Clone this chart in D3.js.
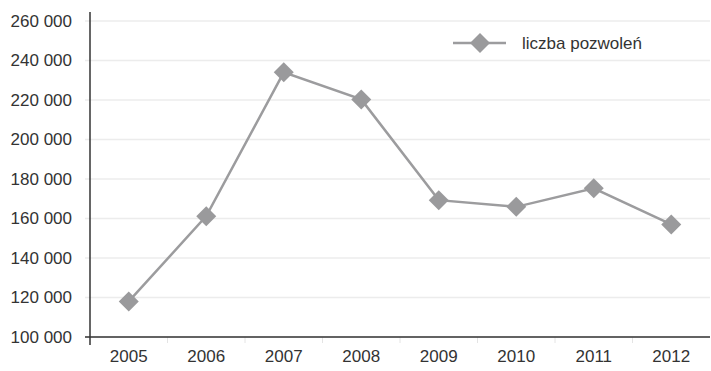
<!DOCTYPE html>
<html>
<head>
<meta charset="utf-8">
<script src="https://cdn.jsdelivr.net/npm/d3@7"></script>
<style>
  html, body { margin: 0; padding: 0; background: #fff; }
  svg text { font-family: "Liberation Sans", Arial, sans-serif; }
</style>
</head>
<body>
<svg id="chart" width="711" height="371"></svg>
<script>
// Building permits issued per year
const years = ["2005", "2006", "2007", "2008", "2009", "2010", "2011", "2012"];
const permits = [118000, 161200, 234000, 220300, 169300, 165900, 175300, 157000];
const yTicks = [100000, 120000, 140000, 160000, 180000, 200000, 220000, 240000, 260000];
const seriesName = "liczba pozwoleń";

const svg = d3.select("#chart");
const plotLeft = 90, plotRight = 710, plotTop = 21, plotBottom = 337;

const x = d3.scaleBand().domain(years).range([plotLeft, plotRight]);
const y = d3.scaleLinear().domain([100000, 260000]).range([plotBottom, plotTop]);

const fmt = v => d3.format(",")(v).replace(/,/g, " ");

// horizontal gridlines
svg.append("g")
  .selectAll("line")
  .data(yTicks)
  .join("line")
  .attr("x1", plotLeft - 5).attr("x2", plotRight)
  .attr("y1", d => y(d)).attr("y2", d => y(d))
  .attr("stroke", "#ececec").attr("stroke-width", 1.5);

// y axis labels
const yAxis = svg.append("g")
  .attr("transform", `translate(${plotLeft},0)`)
  .call(d3.axisLeft(y).tickValues(yTicks).tickFormat(fmt).tickSize(0).tickPadding(18));
yAxis.select(".domain").remove();
yAxis.selectAll("text")
  .attr("font-size", 17).attr("fill", "#333")
  .attr("font-family", "Liberation Sans, Arial, sans-serif");

// x axis labels and faint category ticks
const xAxis = svg.append("g")
  .attr("transform", `translate(0,${plotBottom})`)
  .call(d3.axisBottom(x).tickSize(0).tickPadding(13));
xAxis.select(".domain").remove();
xAxis.selectAll("text")
  .attr("font-size", 17).attr("fill", "#333")
  .attr("font-family", "Liberation Sans, Arial, sans-serif");

svg.append("g")
  .selectAll("line")
  .data(years.slice(1))
  .join("line")
  .attr("x1", d => x(d)).attr("x2", d => x(d))
  .attr("y1", plotBottom).attr("y2", plotBottom + 6)
  .attr("stroke", "#e4e4e4").attr("stroke-width", 1);

// axis lines
svg.append("line")
  .attr("x1", plotLeft).attr("x2", plotLeft)
  .attr("y1", 12).attr("y2", plotBottom + 8)
  .attr("stroke", "#333").attr("stroke-width", 1.5);
svg.append("line")
  .attr("x1", plotLeft - 5).attr("x2", plotRight)
  .attr("y1", plotBottom).attr("y2", plotBottom)
  .attr("stroke", "#333").attr("stroke-width", 1.5);

const cx = (d, i) => x(years[i]) + x.bandwidth() / 2;

// series line
const line = d3.line()
  .x((d, i) => cx(d, i))
  .y(d => y(d));
svg.append("path")
  .datum(permits)
  .attr("d", line)
  .attr("fill", "none")
  .attr("stroke", "#9c9c9e")
  .attr("stroke-width", 2.5);

// diamond markers
const diamond = d3.symbol().type(d3.symbolSquare).size(200);
svg.append("g")
  .selectAll("path")
  .data(permits)
  .join("path")
  .attr("d", diamond)
  .attr("transform", (d, i) => `translate(${cx(d, i)},${y(d)}) rotate(45)`)
  .attr("fill", "#9a9a9c");

// legend
const lg = svg.append("g").attr("transform", "translate(453,43)");
lg.append("line")
  .attr("x1", 0).attr("x2", 53).attr("y1", 0).attr("y2", 0)
  .attr("stroke", "#9c9c9e").attr("stroke-width", 2.5);
lg.append("path")
  .attr("d", diamond)
  .attr("transform", "translate(27,0) rotate(45)")
  .attr("fill", "#9a9a9c");
lg.append("text")
  .attr("x", 69).attr("y", 0).attr("dy", "0.35em")
  .attr("font-size", 17).attr("fill", "#333")
  .text(seriesName);
</script>
</body>
</html>
